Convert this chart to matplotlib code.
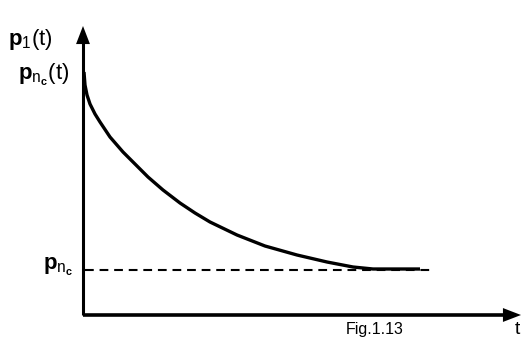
import matplotlib
matplotlib.use("Agg")
import matplotlib.pyplot as plt

# curve (t, p in arbitrary units, origin at the axes corner)
t_vals = [1, 2, 4, 7, 12, 17, 27, 40, 54, 65, 80, 97, 112, 127, 154, 182,
          214, 244, 270, 290, 310, 337]
p_vals = [243, 230, 220, 211, 201, 193, 178, 163, 149, 138, 125, 112, 102,
          93, 80, 69, 60, 53, 48, 46, 46, 46]
p_inf = 45
dash_end = 347

x_label = "t"
caption = "Fig.1.13"

plt.rcParams['mathtext.fontset'] = 'custom'
plt.rcParams['mathtext.rm'] = 'Liberation Sans'
plt.rcParams['mathtext.bf'] = 'Liberation Sans:bold'
plt.rcParams['font.family'] = 'Liberation Sans'

fig = plt.figure(figsize=(5.23, 3.52), dpi=100)
ax = fig.add_axes([0, 0, 1, 1])
# axes origin sits at pixel (83, 315) of the picture
ax.set_xlim(-83, 440)
ax.set_ylim(-37, 315)
ax.axis("off")

# axes with arrows
ax.plot([0, 0], [0, 272], color="black", lw=2.2, solid_capstyle="butt")
ax.plot([0, 422], [0, 0], color="black", lw=2.6, solid_capstyle="butt")
ax.annotate("", xy=(0, 289), xytext=(0, 265),
            arrowprops=dict(arrowstyle="-|>,head_length=1.3,head_width=0.5",
                            color="black", lw=0, shrinkA=0, shrinkB=0))
ax.annotate("", xy=(438, 0), xytext=(412, 0),
            arrowprops=dict(arrowstyle="-|>,head_length=1.3,head_width=0.5",
                            color="black", lw=0, shrinkA=0, shrinkB=0))

# decay curve and asymptote
ax.plot(t_vals, p_vals, color="black", lw=2.4, solid_capstyle="butt",
        solid_joinstyle="round")
ax.plot([2, dash_end], [p_inf, p_inf], color="black", lw=1.5,
        dashes=(4.2, 2.8))

# labels
ax.text(-75, 276, r"$\mathbf{p}_{\mathrm{1}}\mathrm{(t)}$", fontsize=16,
        ha="left", va="center")
ax.text(-65, 240, r"$\mathbf{p}_{\mathrm{n}_{\mathbf{c}}}\mathrm{(t)}$", fontsize=16,
        ha="left", va="center")
ax.text(-40, 48, r"$\mathbf{p}_{\mathrm{n}_{\mathbf{c}}}$", fontsize=16,
        ha="left", va="center")
ax.text(292, -7, caption, fontsize=11.5, ha="center", va="top")
ax.text(434, -6, x_label, fontsize=14, ha="center", va="top")

fig.savefig("out.png", dpi=100)
